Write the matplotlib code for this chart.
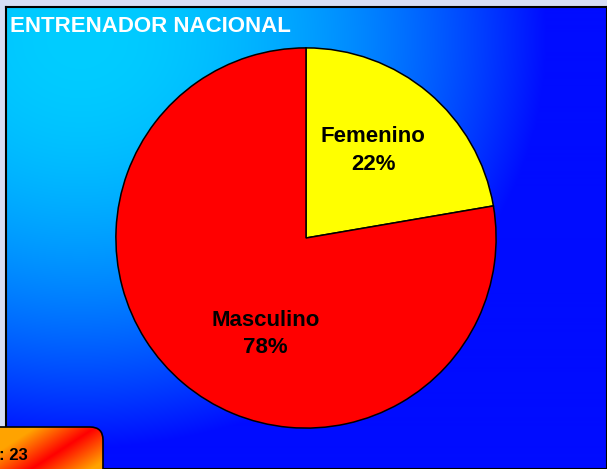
import numpy as np
import matplotlib.pyplot as plt
from matplotlib.patches import FancyBboxPatch

plt.rcParams['font.family'] = ['Liberation Sans', 'DejaVu Sans']

categories = ['Femenino', 'Masculino']
shares = [22.3, 77.7]   # percent, as drawn
colors = ['#ffff00', '#ff0000']
title = 'ENTRENADOR NACIONAL'
total_label = ': 23'

W, H = 607, 469
fig = plt.figure(figsize=(W / 100, H / 100), dpi=100)
fig.patch.set_facecolor('#d6ddf5')

# blue gradient panel
px0, py0 = 6, 7
bg = fig.add_axes([px0 / W, 0, 1 - px0 / W, 1 - py0 / H])
xx, yy = np.meshgrid(np.arange(px0, W), np.arange(py0, H))
g = 205 * (1 - ((xx - 80) / 480) ** 2 - ((yy - 40) / 420) ** 2)
g = np.clip(g, 12, 205) / 255.0
img = np.dstack([np.zeros_like(g), g, np.ones_like(g)])
bg.imshow(img, extent=[0, 1, 0, 1], aspect='auto', origin='upper')
bg.set_xlim(0, 1)
bg.set_ylim(0, 1)
bg.set_xticks([])
bg.set_yticks([])
for s in bg.spines.values():
    s.set_linewidth(1.5)
    s.set_color('black')

fig.text(10 / W, 1 - 26 / H, title, color='white', fontsize=16,
         fontweight='bold', ha='left', va='center')

# pie
cx, cy, r = 306, 238, 192
pax = fig.add_axes([(cx - r) / W, 1 - (cy + r) / H, 2 * r / W, 2 * r / H])
pax.set_facecolor('none')
wedges, _ = pax.pie(shares, colors=colors, startangle=90, counterclock=False,
                    radius=1, wedgeprops=dict(edgecolor='black', linewidth=1.1))
pax.set_xlim(-1.01, 1.01)
pax.set_ylim(-1.01, 1.01)
pax.set_aspect('auto')
pax.axis('off')

pct = [round(s) for s in shares]
label_pos = [(0.354, 0.46), (-0.214, -0.505)]
for cat, p, (lx, ly) in zip(categories, pct, label_pos):
    pax.text(lx, ly, f'{cat}\n{p}%', ha='center', va='center', fontsize=16,
             fontweight='bold', linespacing=1.4, color='black')

# orange total box bottom-left
bx = fig.add_axes([0, 0, 1, 1])
bx.set_xlim(0, W)
bx.set_ylim(H, 0)
bx.axis('off')
bx.patch.set_alpha(0)
box = FancyBboxPatch((-20, 427), 123, 60, boxstyle='round,pad=0,rounding_size=13',
                     facecolor='none', edgecolor='black', linewidth=1.2, zorder=3)
bx.add_patch(box)
gx, gy = np.meshgrid(np.arange(-20, 104), np.arange(427, 470))
# distance to the red diagonal from (30,469) to (95,428)
d = ((gx - 30) * 41 + (gy - 469) * 65) / np.hypot(41, 65)
gg = np.clip(np.abs(d) / 32, 0, 1) * 0.64
oimg = np.dstack([np.ones_like(gg), gg, np.zeros_like(gg)])
im = bx.imshow(oimg, extent=[-20, 104, 470, 427], aspect='auto', zorder=2)
im.set_clip_path(box)
bx.text(28, 456, total_label, fontsize=12, fontweight='bold', color='black',
        ha='right', va='center', zorder=4)

fig.savefig('out.png', dpi=100, facecolor=fig.get_facecolor())
